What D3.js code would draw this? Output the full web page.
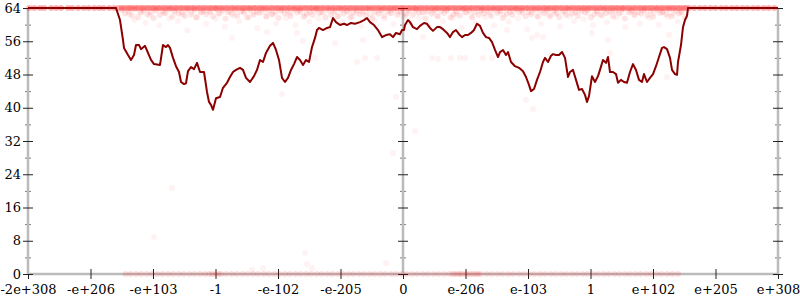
<!DOCTYPE html>
<html><head><meta charset="utf-8">
<script src="https://cdn.jsdelivr.net/npm/d3@7"></script>
<style>body{margin:0;background:#fff}svg text{font-family:"DejaVu Serif",serif;font-size:13px;fill:#000}</style>
</head><body><svg id="c" width="800" height="300"></svg>
<script>
const xTickPos = [-6,-5,-4,-3,-2,-1,0,1,2,3,4,5,6];
const xTickLabels = ["-2e+308","-e+206","-e+103","-1","-e-102","-e-205","0","e-206","e-103","1","e+102","e+205","e+308"];
const yTicks = [0,8,16,24,32,40,48,56,64];
const yMinorTicks = [4,12,20,28,36,44,52,60];

const lineT = [-6,-4.592,-4.528,-4.48,-4.464,-4.4,-4.352,-4.304,-4.272,-4.224,-4.192,-4.128,-4.08,-4.032,-3.984,-3.888,-3.84,-3.792,-3.76,-3.728,-3.68,-3.632,-3.584,-3.552,-3.504,-3.472,-3.44,-3.392,-3.344,-3.296,-3.248,-3.184,-3.136,-3.104,-3.072,-3.04,-3.024,-2.992,-2.928,-2.88,-2.816,-2.768,-2.72,-2.672,-2.608,-2.56,-2.512,-2.448,-2.384,-2.336,-2.288,-2.24,-2.192,-2.128,-2.08,-2.032,-1.984,-1.936,-1.888,-1.84,-1.792,-1.744,-1.696,-1.648,-1.6,-1.552,-1.504,-1.456,-1.408,-1.376,-1.344,-1.28,-1.216,-1.168,-1.12,-1.072,-1.008,-0.944,-0.896,-0.832,-0.768,-0.688,-0.624,-0.576,-0.528,-0.464,-0.4,-0.336,-0.272,-0.208,-0.16,-0.112,-0.048,-0.016,
0.016,0.032,0.08,0.112,0.16,0.224,0.272,0.336,0.384,0.432,0.48,0.544,0.592,0.64,0.704,0.752,0.8,0.848,0.896,0.944,0.992,1.04,1.088,1.136,1.184,1.232,1.28,1.328,1.376,1.424,1.472,1.52,1.552,1.6,1.648,1.68,1.728,1.792,1.856,1.92,1.968,2.016,2.048,2.096,2.144,2.192,2.24,2.272,2.32,2.368,2.4,2.448,2.496,2.544,2.592,2.64,2.672,2.72,2.768,2.816,2.864,2.912,2.944,2.976,3.024,3.072,3.12,3.152,3.2,3.248,3.28,3.312,3.36,3.408,3.44,3.488,3.536,3.584,3.632,3.68,3.728,3.776,3.824,3.856,3.904,3.952,4.0,4.048,4.096,4.144,4.176,4.224,4.272,4.304,4.352,4.384,4.4,4.448,4.48,4.512,4.544,4.56,6];
const lineV = [64,64,61.1,56.3,54.4,52.7,51.5,52.7,55.1,55.1,54.1,54.9,53.2,51.5,50.5,50.3,55.1,54.6,55.1,54.4,52.0,50.0,48.6,46.2,45.7,45.9,48.8,49.8,49.3,50.8,48.6,48.6,43.8,41.4,40.7,39.5,40.4,42.3,42.6,44.8,46.0,47.4,48.6,49.1,49.6,49.1,47.2,46.2,47.6,49.1,51.5,51.0,53.2,54.9,55.6,53.9,51.5,47.2,46.2,47.2,49.1,50.5,52.2,51.5,50.3,51.5,51.0,54.6,56.8,58.7,59.2,58.7,59.2,59.4,61.6,60.6,59.9,60.2,59.9,60.4,60.2,60.6,61.1,61.6,60.6,59.9,58.7,57.0,57.5,57.7,57.0,58.0,57.7,58.7,
58.7,59.9,61.1,60.6,59.4,58.9,59.7,60.4,60.2,59.2,58.5,59.4,59.4,58.9,58.0,57.0,58.2,58.7,57.7,57.0,57.5,57.5,58.0,58.7,60.2,59.7,58.0,57.0,56.8,55.8,53.9,52.2,53.4,53.9,52.7,53.4,51.0,50.0,49.6,48.8,47.4,45.5,44.0,44.5,46.7,48.6,51.0,52.0,51.0,52.5,52.9,52.7,52.7,53.4,52.0,47.4,48.6,49.1,46.7,44.3,44.5,43.1,41.4,42.8,47.6,46.2,47.6,49.1,51.5,50.8,52.2,48.6,48.6,48.1,46.0,46.7,46.2,46.0,48.6,50.5,49.1,46.7,46.2,48.1,46.2,47.2,48.1,50.0,52.2,54.4,54.6,54.1,52.0,49.1,48.1,47.9,51.0,55.1,59.4,61.1,62.1,64,64];

// points sitting at 64 bits
const rowTopT = [-5.98,-5.9,-5.81,-5.74,-5.63,-5.55,-5.47,-5.36,-5.29,-5.2,-5.11,-5.03,-4.94,-4.86,-4.79,-4.7,-4.62,-4.55,-4.5,-4.46,-4.41,-4.37,-4.33,-4.28,-4.24,-4.19,-4.15,-4.1,-4.06,-4.01,-3.97,-3.92,-3.88,-3.83,-3.79,-3.74,-3.7,-3.65,-3.61,-3.56,-3.52,-3.47,-3.43,-3.38,-3.34,-3.29,-3.25,-3.2,-3.16,-3.11,-3.07,-3.02,-2.98,-2.93,-2.89,-2.84,-2.8,-2.75,-2.71,-2.66,-2.62,-2.57,-2.53,-2.48,-2.44,-2.39,-2.35,-2.3,-2.26,-2.21,-2.17,-2.12,-2.08,-2.03,-1.99,-1.94,-1.9,-1.85,-1.81,-1.76,-1.72,-1.67,-1.63,-1.58,-1.54,-1.49,-1.45,-1.4,-1.36,-1.31,-1.27,-1.22,-1.18,-1.13,-1.09,-1.04,-1.0,-0.95,-0.91,-0.86,-0.82,-0.77,-0.73,-0.68,-0.64,-0.59,-0.55,-0.5,-0.46,-0.41,-0.37,-0.32,-0.28,-0.23,-0.19,-0.14,-0.1,-0.05,-0.01,0.03,0.08,0.12,0.17,0.21,0.26,0.3,0.35,0.39,0.44,0.48,0.53,0.57,0.62,0.66,0.71,0.75,0.8,0.84,0.89,0.93,0.98,1.02,1.07,1.11,1.16,1.2,1.25,1.29,1.34,1.38,1.43,1.47,1.52,1.56,1.61,1.65,1.7,1.74,1.79,1.83,1.88,1.92,1.97,2.01,2.06,2.1,2.15,2.19,2.24,2.28,2.33,2.37,2.42,2.46,2.51,2.55,2.6,2.64,2.69,2.73,2.78,2.82,2.87,2.91,2.96,3.0,3.05,3.09,3.14,3.18,3.23,3.27,3.32,3.36,3.41,3.45,3.5,3.54,3.59,3.63,3.68,3.72,3.77,3.81,3.86,3.9,3.95,3.99,4.04,4.08,4.13,4.17,4.22,4.26,4.31,4.35,4.4,4.44,4.49,4.53,4.58,4.66,4.75,4.83,4.92,5.0,5.09,5.17,5.26,5.34,5.43,5.51,5.6,5.68,5.77,5.85,5.94];
// dense band just under 64 bits
const bandT = [-4.5,-4.45,-4.39,-4.34,-4.3,-4.24,-4.19,-4.15,-4.09,-4.04,-3.99,-3.95,-3.89,-3.84,-3.8,-3.74,-3.69,-3.65,-3.59,-3.54,-3.49,-3.45,-3.39,-3.34,-3.3,-3.24,-3.19,-3.15,-3.09,-3.04,-2.99,-2.95,-2.89,-2.84,-2.8,-2.74,-2.69,-2.65,-2.59,-2.54,-2.49,-2.45,-2.39,-2.34,-2.3,-2.24,-2.19,-2.15,-2.09,-2.04,-1.99,-1.95,-1.89,-1.84,-1.8,-1.74,-1.69,-1.65,-1.59,-1.54,-1.49,-1.45,-1.39,-1.34,-1.3,-1.24,-1.19,-1.15,-1.09,-1.04,-0.99,-0.95,-0.89,-0.84,-0.8,-0.74,-0.69,-0.65,-0.59,-0.54,-0.49,-0.45,-0.39,-0.34,-0.3,-0.24,-0.19,-0.15,-0.09,-0.04,0.01,0.06,0.1,0.16,0.21,0.25,0.31,0.36,0.4,0.46,0.51,0.55,0.61,0.66,0.7,0.76,0.81,0.85,0.91,0.96,1.0,1.06,1.11,1.15,1.21,1.26,1.3,1.36,1.41,1.45,1.51,1.56,1.6,1.66,1.71,1.75,1.81,1.86,1.9,1.96,2.01,2.05,2.11,2.16,2.2,2.26,2.31,2.35,2.41,2.46,2.5,2.56,2.61,2.65,2.71,2.76,2.8,2.86,2.91,2.95,3.01,3.06,3.1,3.16,3.21,3.25,3.31,3.36,3.4,3.46,3.51,3.55,3.61,3.66,3.7,3.76,3.81,3.85,3.91,3.96,4.0,4.06,4.11,4.15,4.21,4.26,4.3,4.36,4.41,4.45,4.51];
const bandV = [63.5,62.7,63.1,62.2,63.7,61.8,62.9,63.4,62.5,63.0,61.6,63.6,62.3,63.2,
62.8,63.7,61.9,63.3,62.6,63.0,62.1,63.5,62.4,63.6,61.7,62.9,63.3,62.5,
63.1,62.0,63.7,62.7,63.4,61.5,63.0,62.6,63.5,62.2,63.2,62.9,61.8,63.6,
62.4,63.1,62.8,63.7,62.0,63.3,62.5,63.0,61.6,63.5,62.7,63.2,62.1,63.6,
62.9,63.4,61.9,62.6,63.1,62.3,63.7,62.8,63.0,61.7,63.5,62.4,63.3,62.0,
63.6,62.7,63.2,61.8,62.9,63.4,62.5,63.1,62.2,63.7,61.6,63.0,62.6,63.5,
62.1,63.3,62.8,63.6,62.4,63.1,61.9,62.7,63.4,62.3,63.7,62.9,63.0,61.5,
63.2,62.6,63.5,62.0,63.3,62.8,63.6,61.8,62.5,63.1,62.2,63.7,62.9,63.4,
61.7,63.0,62.4,63.5,62.7,63.2,62.1,63.6,62.8,63.3,61.6,62.6,63.1,62.3,
63.7,62.9,63.4,62.0,63.0,62.5,63.5,61.9,63.2,62.7,63.6,62.2,63.3,62.8,
61.8,63.1,62.4,63.7,62.6,63.0,62.1,63.4,62.9,63.5,61.7,62.5,63.2,62.3,
63.6,62.8,63.1,62.0,63.3,62.7,63.7,61.5,62.9,63.4,62.4,63.0,62.6,63.5,
62.2,63.2,61.9,63.6,62.8,63.1,62.5,63.7,62.0,63.3,62.7,63.0,61.8,63.4];
// points sitting at 0 bits
const rowZeroT = [-4.44,-4.36,-4.27,-4.19,-4.1,-4.02,-3.93,-3.85,-3.76,-3.68,-3.59,-3.51,-3.42,-3.34,-3.25,-3.17,-3.1,-3.05,-3.0,-2.95,-2.91,-2.83,-2.74,-2.66,-2.57,-2.49,-2.4,-2.32,-2.23,-2.15,-2.06,-1.98,-1.89,-1.81,-1.72,-1.64,-1.55,-1.47,-1.38,-1.3,-1.21,-1.13,-1.04,-0.96,-0.87,-0.79,-0.7,-0.62,-0.53,-0.45,-0.36,-0.28,-0.19,-0.11,-0.02,0.06,0.15,0.23,0.32,0.4,0.49,0.57,0.66,0.74,0.8,0.83,0.88,0.91,0.95,1.0,1.03,1.08,1.12,1.17,1.2,1.25,1.34,1.42,1.51,1.59,1.68,1.76,1.85,1.93,2.02,2.1,2.19,2.27,2.36,2.44,2.53,2.61,2.7,2.78,2.87,2.95,3.04,3.12,3.21,3.29,3.38,3.46,3.55,3.63,3.72,3.8,3.89,3.97,4.06,4.14,4.23,4.31,4.4];
// scattered points
const scatT = [-4.38,-4.3,-4.21,-4.12,-4.05,-3.96,-3.9,-3.82,-3.74,-3.66,-3.6,-3.52,-3.45,-3.38,-3.31,-3.22,-3.15,-3.08,-3.0,-2.93,-2.85,-2.78,-2.7,-2.62,-2.55,-2.47,-2.4,-2.33,-2.25,-2.18,-2.1,-2.03,-1.95,-1.87,-1.8,-1.72,-1.64,-1.57,-1.5,-1.42,-1.35,-1.27,-1.2,-1.12,-1.05,-0.97,-0.9,-0.82,-0.75,-0.67,-0.6,-0.52,-0.45,-0.37,-0.3,-0.22,-0.15,-0.07,0.04,0.11,0.19,0.26,0.34,0.41,0.49,0.56,0.64,0.71,0.79,0.86,0.94,1.01,1.09,1.16,1.24,1.31,1.39,1.46,1.54,1.61,1.69,1.76,1.84,1.91,1.99,2.06,2.14,2.21,2.29,2.36,2.44,2.51,2.59,2.66,2.74,2.81,2.89,2.96,3.04,3.11,3.19,3.26,3.34,3.41,3.49,3.56,3.64,3.71,3.79,3.86,3.94,4.01,4.09,4.16,4.24,4.31,4.39,4.46,
-3.984,-1.568,-1.536,-1.456,-0.272,-2.416,-2.24,-0.16,0.192,-3.696,-1.936,-0.112,1.968,2.08,4.224,-1.408,-0.736,-0.608,-0.416,0.464,0.56,0.768,0.912,0.992,1.28,1.424,3.312,-2.736,-0.64,-1.088,-1.6,0.32,1.664,2.144,2.24,2.064,3.024,3.28,4.256,-2.176,-1.696];
const scatV = [62.5,61.2,63.0,60.4,62.2,63.3,59.8,62.7,61.5,63.1,60.9,62.4,58.6,63.0,61.8,62.9,60.2,63.2,61.4,62.6,59.5,63.1,62.0,60.8,63.3,61.7,62.8,59.1,63.0,61.9,62.5,60.3,63.2,61.6,62.7,59.9,63.1,62.2,60.7,63.3,61.5,62.9,58.9,63.0,62.1,60.6,63.2,61.9,62.6,59.6,63.1,62.3,60.9,63.3,61.4,62.8,60.1,63.0,62.4,60.5,63.2,61.7,62.9,59.7,63.1,62.0,60.8,63.3,61.6,62.7,59.3,63.0,62.2,60.4,63.2,61.8,62.6,59.8,63.1,62.3,60.7,63.3,61.5,62.8,58.8,63.0,62.1,60.2,63.2,61.9,62.5,59.6,63.1,62.0,60.9,63.3,61.3,62.7,59.9,63.0,62.2,60.6,63.2,61.7,62.9,59.4,63.1,62.4,60.3,63.3,61.6,62.8,60.0,63.0,61.9,62.6,60.7,63.2,
8.9,5.1,2.4,1.4,2.6,1.0,1.4,29.1,34.4,20.7,43.3,42.6,41.9,39.7,47.4,52.0,51.0,52.0,52.0,52.0,51.7,52.0,52.0,52.0,52.0,52.0,53.2,56.8,56.3,55.6,56.1,57.0,58.7,57.5,57.0,56.8,58.0,56.3,57.5,58.2,58.0];

const svg = d3.select("#c");
const x = d3.scaleLinear().domain([-6,6]).range([28,778]);
const y = d3.scaleLinear().domain([0,64]).range([274,8]);

function yAxisAt(xpos, labels) {
  const g = svg.append("g").attr("transform", `translate(${xpos},0)`);
  g.call(d3.axisLeft(y).tickValues(yMinorTicks).tickSize(3).tickFormat(""));
  g.selectAll(".tick line").attr("x1",-3).attr("x2",3).attr("stroke","#777");
  g.select(".domain").remove();
  const g2 = svg.append("g").attr("transform", `translate(${xpos},0)`);
  g2.call(d3.axisLeft(y).tickValues(yTicks).tickSize(5).tickPadding(2).tickFormat(labels ? d3.format("d") : ""));
  g2.select(".domain").attr("stroke","#bbb").attr("stroke-width",2.5).attr("d",`M0,${y(64)}V${y(0)}`);
  g2.selectAll(".tick line").attr("x1",-5).attr("x2",5).attr("stroke","#222");
  g2.attr("font-family",null).attr("font-size",null);
  g.attr("font-family",null).attr("font-size",null);
}

const gx = svg.append("g").attr("transform", `translate(0,${y(0)})`);
gx.call(d3.axisBottom(x).tickValues(xTickPos).tickSize(5).tickPadding(6).tickFormat((d,i)=>xTickLabels[i]));
gx.select(".domain").attr("stroke","#bbb").attr("stroke-width",2.5).attr("d",`M${x(-6)},0H${x(6)}`);
gx.selectAll(".tick line").attr("y1",-5).attr("y2",5).attr("stroke","#222");
gx.attr("font-family",null).attr("font-size",null);

yAxisAt(x(-6), true);
yAxisAt(x(0), false);
yAxisAt(x(6), false);

const pts = svg.append("g");
pts.selectAll("circle.top").data(rowTopT).join("circle").attr("class","top")
  .attr("cx", d=>x(d)).attr("cy", y(64)).attr("r",3).attr("fill","#ff0000").attr("fill-opacity",0.3);
pts.selectAll("circle.band").data(bandT.map((t,i)=>[t,bandV[i]])).join("circle").attr("class","band")
  .attr("cx", d=>x(d[0])).attr("cy", d=>y(d[1])).attr("r",3).attr("fill","#ff0000").attr("fill-opacity",0.1);
pts.selectAll("circle.zero").data(rowZeroT).join("circle").attr("class","zero")
  .attr("cx", d=>x(d)).attr("cy", y(0)).attr("r",3).attr("fill","#ff0000").attr("fill-opacity",0.12);
pts.selectAll("circle.sc").data(scatT.map((t,i)=>[t,scatV[i]])).join("circle").attr("class","sc")
  .attr("cx", d=>x(d[0])).attr("cy", d=>y(d[1])).attr("r",3).attr("fill","#ff0000").attr("fill-opacity",0.05);

const line = d3.line().x(d=>x(d[0])).y(d=>y(d[1]));
svg.append("path").datum(lineT.map((t,i)=>[t,lineV[i]]))
  .attr("d", line).attr("fill","none").attr("stroke","#8b0000").attr("stroke-width",2).attr("stroke-linejoin","round");
</script></body></html>
